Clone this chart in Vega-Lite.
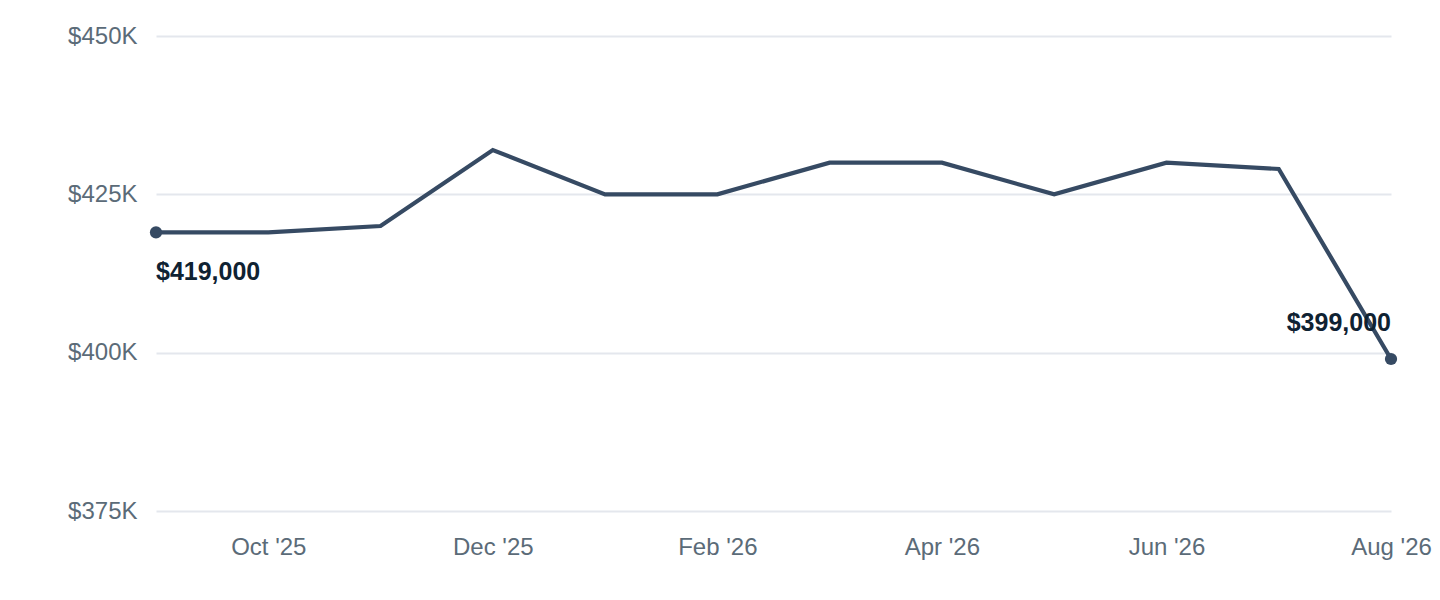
{
  "$schema": "https://vega.github.io/schema/vega-lite/v6.json",
  "autosize": {"type": "none"},
  "padding": {"left": 156, "top": 36, "right": 49, "bottom": 89},
  "width": 1235,
  "height": 475,
  "background": "white",
  "config": {
    "view": {"stroke": null},
    "font": "Liberation Sans",
    "axis": {
      "labelFont": "Liberation Sans",
      "labelFontSize": 24,
      "labelColor": "#5b6b78",
      "domain": false,
      "ticks": false,
      "title": null
    }
  },
  "data": {
    "values": [
      {"month": "Sep '25", "price": 419000},
      {"month": "Oct '25", "price": 419000},
      {"month": "Nov '25", "price": 420000},
      {"month": "Dec '25", "price": 432000},
      {"month": "Jan '26", "price": 425000},
      {"month": "Feb '26", "price": 425000},
      {"month": "Mar '26", "price": 430000},
      {"month": "Apr '26", "price": 430000},
      {"month": "May '26", "price": 425000},
      {"month": "Jun '26", "price": 430000},
      {"month": "Jul '26", "price": 429000},
      {"month": "Aug '26", "price": 399000}
    ]
  },
  "encoding": {
    "x": {
      "field": "month",
      "type": "ordinal",
      "sort": null,
      "scale": {"type": "point", "padding": 0},
      "axis": {
        "values": ["Oct '25", "Dec '25", "Feb '26", "Apr '26", "Jun '26", "Aug '26"],
        "labelAngle": 0,
        "labelPadding": 24,
        "grid": false
      }
    },
    "y": {
      "field": "price",
      "type": "quantitative",
      "scale": {"domain": [375000, 450000], "zero": false, "nice": false},
      "axis": {
        "values": [375000, 400000, 425000, 450000],
        "labelExpr": "'$' + format(datum.value / 1000, 'd') + 'K'",
        "labelPadding": 19,
        "grid": true,
        "gridColor": "#e4e7ed",
        "gridWidth": 2
      }
    }
  },
  "layer": [
    {
      "mark": {"type": "line", "color": "#364a63", "strokeWidth": 4.2, "strokeJoin": "miter"}
    },
    {
      "transform": [{"filter": "datum.month === \"Sep '25\" || datum.month === \"Aug '26\""}],
      "mark": {"type": "point", "filled": true, "opacity": 1, "color": "#364a63", "size": 150}
    },
    {
      "transform": [{"filter": "datum.month === \"Sep '25\""}],
      "mark": {"type": "text", "align": "left", "baseline": "middle", "dy": 40, "fontSize": 25, "fontWeight": "bold", "color": "#0f2232"},
      "encoding": {"text": {"field": "price", "type": "quantitative", "format": "$,.0f"}}
    },
    {
      "transform": [{"filter": "datum.month === \"Aug '26\""}],
      "mark": {"type": "text", "align": "right", "baseline": "middle", "dy": -36, "fontSize": 25, "fontWeight": "bold", "color": "#0f2232"},
      "encoding": {"text": {"field": "price", "type": "quantitative", "format": "$,.0f"}}
    }
  ]
}
